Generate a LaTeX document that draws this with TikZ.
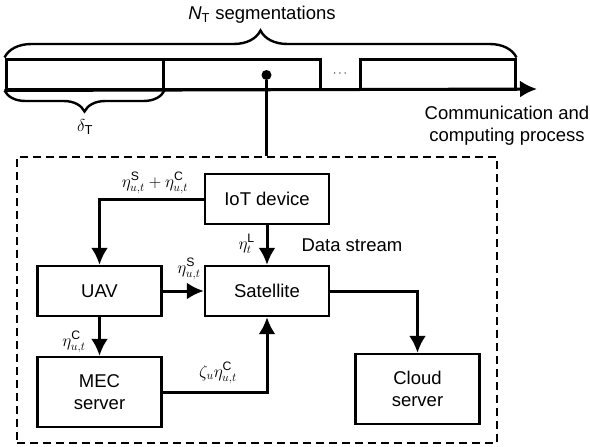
\documentclass[tikz,border=0pt]{standalone}
\usepackage{fontspec}
\setmainfont{Liberation Sans}
\setsansfont{Liberation Sans}
\usepackage{amsmath}
\usetikzlibrary{arrows.meta,decorations.pathreplacing}
\tikzset{
    unit box/.style={draw, line width=2.4pt, minimum width=124pt,
        minimum height=50pt, align=center, inner sep=0pt},
    slot box/.style={draw, line width=3pt, minimum height=30pt, inner sep=0pt},
    slot line/.style={line width=3pt},
    flow line/.style={line width=3pt, -{Latex[length=17pt,width=17pt]}},
    rate label/.style={font=\fontsize{17.5}{20}\selectfont, inner sep=1pt},
    frame line/.style={draw, line width=2pt, dash pattern=on 8pt off 5pt,
        inner sep=0pt},
    span brace/.style={line width=2.4pt, decorate,
        decoration={brace, amplitude=#1}},
    probe dot/.style={circle, fill, inner sep=0pt, minimum size=10pt}
}
\newcommand{\Up}[1]{\text{#1}}

\begin{document}
\begin{tikzpicture}[x=1pt,y=-1pt,font=\fontsize{18.5}{22}\selectfont]
    \useasboundingbox (0,0) rectangle (590,447);

    % time slots
    \node[slot box, minimum width=157pt] (s1) at (84.5,74) {};
    \node[slot box, minimum width=157pt] (s2) at (241.5,74) {};
    \node[slot box, minimum width=155pt] (s3) at (437.5,74) {};
    \node[font=\fontsize{12}{14}\selectfont] (gap) at (341,74) {$\cdots$};
    \coordinate (tend) at (537,89);
    \draw[flow line] (s1.south west) -- (tend);

    \draw[span brace=27] (s1.north west) -- (s3.north east);
    \draw[span brace=21] (s1.south east) -- (s1.south west);
    \node (nseg) at (262,15) {$\textit{N}_{\Up{T}}$ segmentations};
    \node (dlen) at (85,127) {$\delta_{\Up{T}}$};
    \node[align=center] (proc) at (507,126) {Communication and\\computing process};

    % one slot in detail
    \node[frame line, minimum width=480pt, minimum height=286pt] (frame) at (257,300) {};
    \node[probe dot] (probe) at (266.5,75) {};
    \draw[slot line] (probe) -- (probe |- frame.north);

    \node[unit box] (iot) at (267,199) {IoT device};
    \node[unit box] (uav) at (99.5,291) {UAV};
    \node[unit box] (sat) at (267,291) {Satellite};
    \node[unit box, minimum height=70pt] (mec) at (99.5,392) {MEC\\server};
    \node[unit box, minimum height=70pt] (cloud) at (417.5,389) {Cloud\\server};

    \draw[flow line] (iot.west) -| (uav.north);
    \draw[flow line] (iot) -- (sat);
    \draw[flow line] (uav) -- (sat);
    \draw[flow line] (uav) -- (mec);
    \draw[flow line] (mec.east) -| (sat.south);
    \draw[flow line] (sat.east) -| (cloud.north);

    \node[rate label] (r1) at (155,183) {$\eta^{\Up{S}}_{u,t}+\eta^{\Up{C}}_{u,t}$};
    \node[rate label, anchor=east] (r2) at (256,244) {$\eta^{\Up{L}}_{t}$};
    \node[anchor=west] (dstream) at (298,245) {Data stream};
    \node[rate label] (r3) at (189,269) {$\eta^{\Up{S}}_{u,t}$};
    \node[rate label] (r4) at (74,342) {$\eta^{\Up{C}}_{u,t}$};
    \node[rate label] (r5) at (218,373) {$\zeta_u\eta^{\Up{C}}_{u,t}$};
\end{tikzpicture}
\end{document}
